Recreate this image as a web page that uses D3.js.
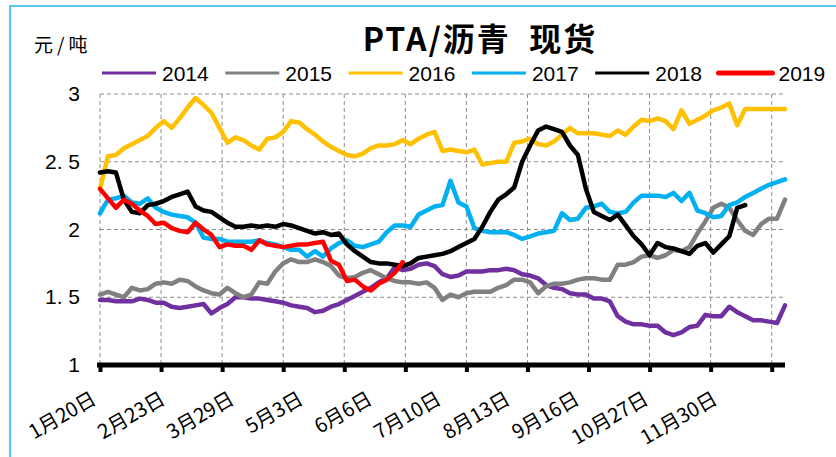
<!DOCTYPE html>
<html>
<head>
<meta charset="utf-8">
<script src="https://cdn.jsdelivr.net/npm/d3@7"></script>
<style>
  html, body { margin: 0; padding: 0; background: #fff; }
  svg { display: block; }
  text { white-space: pre; }
</style>
</head>
<body>
<svg id="chart" width="836" height="457"></svg>
<script>
// Spot ratio PTA / bitumen, one series per year; each point covers 3 trading days.
const years = ["2014", "2015", "2016", "2017", "2018", "2019"];
const colors = ["#7030A0", "#808080", "#FFC000", "#00B0F0", "#000000", "#FF0000"];
const xLabels = ["1月20日", "2月23日", "3月29日", "5月3日", "6月6日", "7月10日", "8月13日", "9月16日", "10月27日", "11月30日"];
const yTicks = [1, 1.5, 2, 2.5, 3];
const yLabels = ["1", "1. 5", "2", "2. 5", "3"];

const s2014 = [1.48,1.48,1.47,1.47,1.47,1.49,1.48,1.46,1.46,1.43,1.42,1.43,1.44,1.45,1.38,1.42,1.45,1.50,1.50,1.49,
  1.49,1.48,1.47,1.46,1.44,1.43,1.42,1.39,1.40,1.43,1.45,1.48,1.51,1.54,1.57,1.61,1.64,1.72,1.70,1.71,
  1.74,1.75,1.73,1.67,1.65,1.66,1.69,1.69,1.69,1.70,1.70,1.71,1.70,1.67,1.66,1.64,1.59,1.57,1.56,1.53,
  1.52,1.52,1.49,1.49,1.47,1.36,1.32,1.30,1.30,1.29,1.29,1.24,1.22,1.24,1.28,1.29,1.37,1.36,1.36,1.43,
  1.39,1.36,1.33,1.33,1.32,1.31,1.44];
const s2015 = [1.52,1.54,1.52,1.50,1.57,1.55,1.56,1.60,1.61,1.60,1.63,1.62,1.58,1.55,1.53,1.52,1.57,1.53,1.50,1.52,
  1.61,1.60,1.69,1.75,1.78,1.76,1.76,1.78,1.76,1.73,1.66,1.64,1.65,1.68,1.70,1.67,1.64,1.62,1.61,1.61,
  1.60,1.61,1.57,1.48,1.52,1.50,1.53,1.54,1.54,1.54,1.57,1.59,1.63,1.63,1.61,1.53,1.58,1.60,1.60,1.61,
  1.63,1.64,1.64,1.63,1.63,1.74,1.74,1.76,1.80,1.81,1.79,1.81,1.85,1.84,1.87,1.97,2.06,2.16,2.19,2.16,
  2.07,1.99,1.96,2.04,2.08,2.08,2.22];
const s2016 = [2.30,2.54,2.55,2.60,2.63,2.66,2.69,2.75,2.80,2.75,2.82,2.90,2.97,2.92,2.86,2.75,2.64,2.68,2.66,2.62,
  2.59,2.67,2.68,2.72,2.80,2.79,2.74,2.70,2.65,2.61,2.58,2.55,2.54,2.56,2.60,2.62,2.62,2.63,2.66,2.63,
  2.67,2.70,2.72,2.58,2.59,2.58,2.57,2.59,2.48,2.49,2.50,2.50,2.64,2.65,2.67,2.63,2.62,2.65,2.70,2.75,
  2.71,2.71,2.71,2.70,2.69,2.73,2.70,2.76,2.81,2.80,2.82,2.80,2.74,2.88,2.78,2.81,2.84,2.88,2.90,2.93,
  2.77,2.89,2.89,2.89,2.89,2.89,2.89];
const s2017 = [2.12,2.22,2.23,2.25,2.20,2.19,2.23,2.16,2.13,2.11,2.10,2.09,2.05,1.94,1.93,1.93,1.91,1.91,1.91,1.91,
  1.92,1.90,1.89,1.87,1.85,1.85,1.80,1.84,1.80,1.86,1.90,1.92,1.88,1.87,1.89,1.91,1.98,2.03,2.03,2.02,
  2.11,2.14,2.17,2.18,2.36,2.20,2.17,2.01,1.99,1.98,1.98,1.98,1.96,1.93,1.95,1.97,1.98,1.99,2.12,2.07,
  2.08,2.16,2.17,2.19,2.13,2.12,2.13,2.20,2.25,2.25,2.25,2.24,2.27,2.21,2.27,2.14,2.12,2.09,2.10,2.18,
  2.20,2.24,2.27,2.30,2.33,2.35,2.37];
const s2018 = [2.42,2.43,2.42,2.22,2.13,2.12,2.18,2.19,2.21,2.24,2.26,2.28,2.17,2.14,2.13,2.09,2.05,2.02,2.02,2.03,
  2.02,2.03,2.02,2.04,2.03,2.01,1.99,1.97,1.98,1.96,1.97,1.89,1.84,1.80,1.76,1.75,1.75,1.74,1.73,1.75,
  1.79,1.80,1.81,1.82,1.84,1.87,1.90,1.93,2.02,2.13,2.22,2.26,2.31,2.50,2.62,2.73,2.76,2.74,2.72,2.62,
  2.55,2.30,2.13,2.10,2.07,2.11,2.03,1.95,1.89,1.81,1.90,1.87,1.86,1.84,1.82,1.88,1.90,1.83,1.89,1.95,
  2.16,2.18];
const s2019 = [2.30,2.23,2.16,2.22,2.19,2.14,2.10,2.04,2.05,2.01,1.99,1.98,2.05,2.00,1.96,1.87,1.89,1.88,1.88,1.85,
  1.92,1.89,1.88,1.87,1.88,1.89,1.89,1.90,1.91,1.77,1.74,1.62,1.63,1.58,1.55,1.60,1.63,1.68,1.76];

const seriesValues = [s2014, s2015, s2016, s2017, s2018, s2019];
const STEP = 3;          // trading days per stored point
const TICK_EVERY = 23;   // trading days between axis ticks
const LABEL_EVERY = 26;  // trading days between date labels
const LAST_DAY = 258;

const svg = d3.select("#chart");
const fontLatin = "'Liberation Sans', Arial, 'Noto Sans CJK SC', sans-serif";
const fontCJK = "'Noto Sans CJK SC', 'Liberation Sans', sans-serif";

// outer frame
svg.append("rect")
  .attr("x", 10).attr("y", 6).attr("width", 900).attr("height", 500)
  .attr("fill", "none").attr("stroke", "#22B5EE").attr("stroke-width", 1.5);

const x = d3.scaleLinear().domain([0, LAST_DAY]).range([100, 785]);
const y = d3.scaleLinear().domain([1, 3]).range([365, 94]);

// grid
const grid = svg.append("g").attr("stroke", "#8c8c8c").attr("stroke-width", 1).attr("stroke-dasharray", "4,3");
const tickDays = d3.range(0, LAST_DAY + 1, TICK_EVERY);
grid.selectAll("line.v").data(tickDays).join("line").attr("class", "v")
  .attr("x1", d => x(d)).attr("x2", d => x(d)).attr("y1", y(3)).attr("y2", y(1));
grid.selectAll("line.h").data(yTicks.filter(v => v > 1)).join("line").attr("class", "h")
  .attr("x1", x(0)).attr("x2", x(LAST_DAY)).attr("y1", d => y(d)).attr("y2", d => y(d));

// y axis labels
const yAxis = svg.append("g").attr("transform", `translate(${x(0)},0)`)
  .call(d3.axisLeft(y).tickValues(yTicks).tickSize(0).tickPadding(20)
    .tickFormat(d => yLabels[yTicks.indexOf(d)]));
yAxis.select(".domain").remove();
yAxis.selectAll("text").attr("font-family", fontLatin).attr("font-size", 21).attr("fill", "#000");

// lines
const line = d3.line().x((d, i) => x(i * STEP)).y(d => y(d));
svg.append("g").selectAll("path").data(seriesValues).join("path")
  .attr("d", d => line(d))
  .attr("fill", "none")
  .attr("stroke", (d, i) => colors[i])
  .attr("stroke-width", 4.5)
  .attr("stroke-linejoin", "round")
  .attr("stroke-linecap", "round");

// x axis: heavy baseline with square ticks
const xAxis = svg.append("g").attr("transform", `translate(0,${y(1)})`)
  .call(d3.axisBottom(x).tickValues(tickDays).tickSize(7).tickSizeOuter(0).tickFormat(""));
xAxis.select(".domain").attr("stroke", "#000").attr("stroke-width", 5)
  .attr("d", `M${x(0) - 3},0H${x(LAST_DAY)}`);
xAxis.selectAll(".tick line").attr("stroke", "#000").attr("stroke-width", 4);

const labelDays = d3.range(0, LABEL_EVERY * xLabels.length, LABEL_EVERY);
const xLab = svg.append("g").attr("transform", `translate(0,${y(1)})`)
  .call(d3.axisBottom(x).tickValues(labelDays).tickSize(0).tickFormat((d, i) => xLabels[i]));
xLab.select(".domain").remove();
xLab.selectAll("text")
  .attr("font-family", fontCJK).attr("font-size", 20).attr("fill", "#000")
  .attr("text-anchor", "end").attr("dy", 0).attr("y", 0)
  .attr("transform", "translate(-3,38) rotate(-30)");

// title and unit
svg.append("text").attr("x", 480).attr("y", 51).attr("text-anchor", "middle")
  .attr("font-family", fontCJK).attr("font-size", 32).attr("font-weight", "bold")
  .attr("letter-spacing", 2).text("PTA/沥青  现货");
svg.append("text").attr("x", 34).attr("y", 52)
  .attr("font-family", fontCJK).attr("font-size", 19).attr("letter-spacing", 4).text("元/吨");

// legend
const legend = svg.append("g").selectAll("g").data(years).join("g")
  .attr("transform", (d, i) => `translate(${102 + i * 123.3},73)`);
legend.append("line").attr("x1", 0).attr("x2", 54).attr("y1", 0).attr("y2", 0)
  .attr("stroke", (d, i) => colors[i]).attr("stroke-width", (d, i) => i === 5 ? 5 : 3)
  .attr("stroke-linecap", (d, i) => i === 5 ? "round" : "butt");
legend.append("text").attr("x", 60).attr("y", 8)
  .attr("font-family", fontLatin).attr("font-size", 21).text(d => d);
</script>
</body>
</html>
